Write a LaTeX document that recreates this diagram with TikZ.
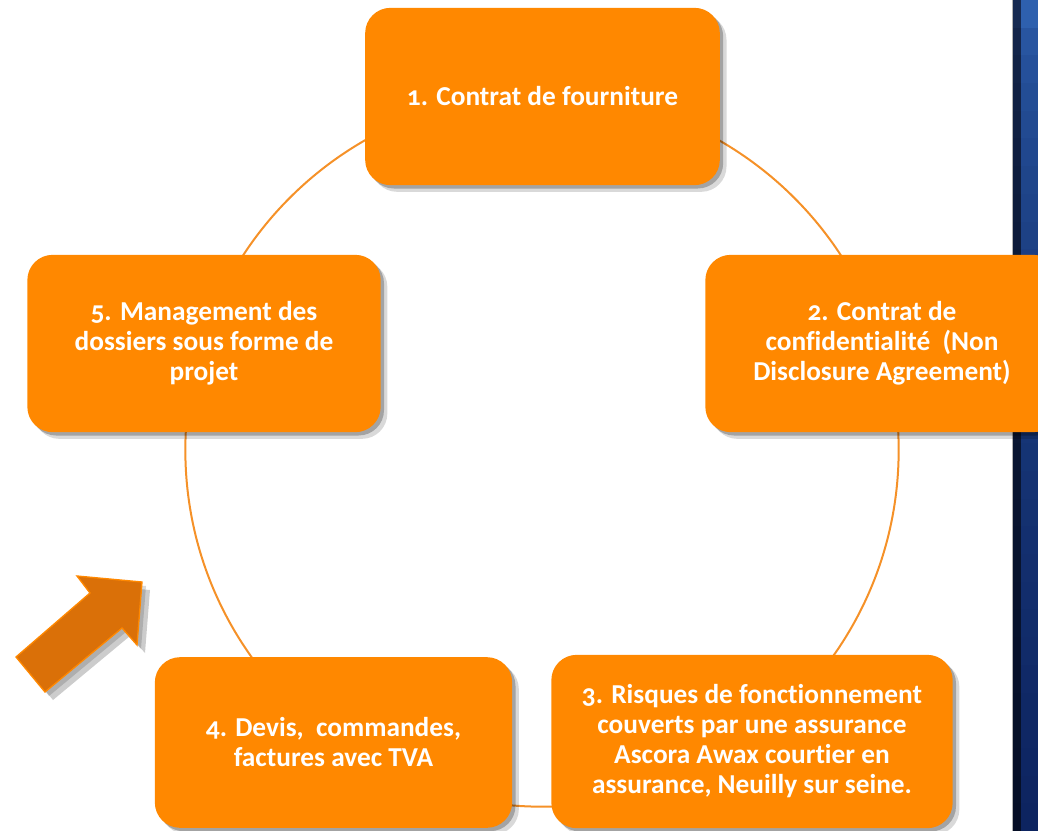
\documentclass[tikz,border=0pt]{standalone}
\usepackage{fontspec}
\setmainfont{Carlito}[Numbers=OldStyle, Ligatures=NoCommon]
\usetikzlibrary{shadows}

\definecolor{etapeorange}{RGB}{255,136,0}
\definecolor{flecheorange}{RGB}{218,112,8}
\definecolor{cercleorange}{RGB}{245,145,40}
\definecolor{bandebleu}{RGB}{46,96,174}
\definecolor{bandenuit}{RGB}{13,36,96}
\definecolor{bandebord}{RGB}{22,42,82}
\definecolor{bandebordnuit}{RGB}{5,14,38}

\tikzset{every picture/.style={line width=0.75pt}}
\tikzset{etape/.style={fill=etapeorange, draw=none, rounded corners=19pt, align=center, text=white,
  font=\bfseries\fontsize{20.5}{22.5}\selectfont, inner sep=0pt,
  drop shadow={shadow xshift=2.5pt, shadow yshift=-2.5pt, fill=black, opacity=0.25},
  drop shadow={shadow xshift=5pt, shadow yshift=-5pt, fill=black, opacity=0.15}}}

\begin{document}
\begin{tikzpicture}[x=0.75pt,y=0.75pt,yscale=-1,xscale=1]
\path[use as bounding box] (0,0) rectangle (1038,831);
\clip (0,0) rectangle (1038,831);

%Shape: Rectangle (blue band at the right edge)
\foreach \i in {0,...,29}{
  \pgfmathsetmacro{\m}{100-100*sqrt(\i/29)}
  \fill [bandebleu!\m!bandenuit] (1021,{\i*27.7}) rectangle (1038,{(\i+1)*27.7+0.5});
  \fill [bandebord!\m!bandebordnuit] (1013,{\i*27.7}) rectangle (1021,{(\i+1)*27.7+0.5});
}
\draw [color=gray!60, line width=0.5pt] (1012.5,0) -- (1012.5,831);

%Shape: Circle
\draw [color=cercleorange, line width=1.5pt] (542,450) circle [radius=267.5pt];

%Shape: Arrow (shadow)
\fill [black, opacity=0.15] (20,661) -- (94,597) -- (81,580) -- (146,586) -- (141,649) -- (126,632) -- (49,696) -- cycle ;
\fill [black, opacity=0.2] (24,665) -- (98,601) -- (85,584) -- (150,590) -- (145,653) -- (130,636) -- (53,700) -- cycle ;
%Shape: Arrow
\draw [fill=flecheorange, draw=etapeorange, line width=1pt, line join=miter] (16,657) -- (90,593) -- (77,576) -- (142,582) -- (137,645) -- (122,628) -- (45,692) -- cycle ;

% Text Node
\node (contrat) [etape, minimum width=266pt, minimum height=133pt] at (542.5,96.5) {1. Contrat de fourniture};
% Text Node
\node (nda) [etape, minimum width=265pt, minimum height=133pt] at (882,343.5) {2. Contrat de\\confidentialité\ \ (Non\\Disclosure Agreement)};
% Text Node
\node (risques) [etape, minimum width=301pt, minimum height=130pt] at (752,741.5) {3. Risques de fonctionnement\\couverts par une assurance\\Ascora Awax courtier en\\assurance, Neuilly sur seine.};
% Text Node
\node (devis) [etape, minimum width=268pt, minimum height=128pt] at (333.5,742.5) {4. Devis,\ \ commandes,\\factures avec TVA};
% Text Node
\node (dossiers) [etape, minimum width=265pt, minimum height=133pt] at (204,343.5) {5. Management des\\dossiers sous forme de\\projet};

\end{tikzpicture}
\end{document}
